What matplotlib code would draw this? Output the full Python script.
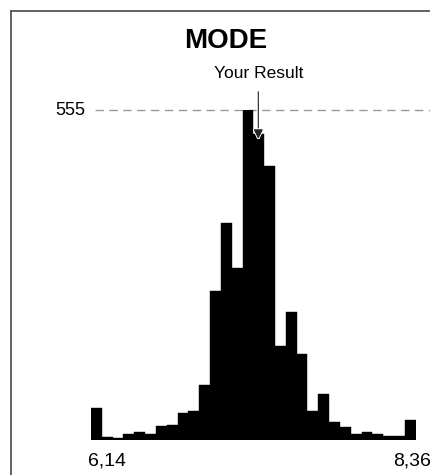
import matplotlib
matplotlib.use("Agg")
import matplotlib.pyplot as plt
import matplotlib.patheffects as pe
import numpy as np

plt.rcParams['font.family'] = ['Liberation Sans', 'DejaVu Sans']

# histogram of results, 30 bins between the min and max
x_min = 6.14
x_max = 8.36
counts = [54, 5, 4, 10, 14, 10, 24, 26, 46, 48, 93, 250, 366, 290, 555,
          515, 462, 158, 216, 144, 49, 77, 30, 22, 10, 13, 10, 6, 6, 34]
mode_value = 555
your_result = 7.284
min_label = "6,14"
max_label = "8,36"

W, H = 431, 475
fig = plt.figure(figsize=(W / 100, H / 100), dpi=100)

# axes placed so bars run from px 91 to 415.7, baseline at px 440
left, right = 91 / W, 415.7 / W
bottom = (H - 440) / H
top = (H - 110.3) / H
ax = fig.add_axes([left, bottom, right - left, top - bottom])

edges = np.linspace(x_min, x_max, len(counts) + 1)
ax.bar(edges[:-1], counts, width=np.diff(edges), align='edge',
       color='black', edgecolor='black', linewidth=0.3)
ax.set_xlim(x_min, x_max)
ax.set_ylim(0, mode_value)
ax.axis('off')

# dashed line at the mode count
ax.axhline(mode_value, xmin=(95 - 91) / 324.7, xmax=1.1, color='#999999',
           lw=1.0, ls=(0, (6, 4)), clip_on=False, zorder=0)
ax.text(-6 / 324.7, mode_value, str(mode_value), transform=ax.get_yaxis_transform(),
        ha='right', va='center', fontsize=13)

# "Your Result" arrow
tip_y = (440 - 138) * mode_value / 330.7
ann = ax.annotate("Your Result", xy=(your_result, tip_y),
                  xytext=(your_result, (440 - 72) * mode_value / 330.7),
                  ha='center', va='center', fontsize=12.5,
                  arrowprops=dict(arrowstyle='-|>,head_length=0.45,head_width=0.22',
                                  color='#222222', lw=0.8, shrinkA=6, shrinkB=0),
                  annotation_clip=False)
ann.arrow_patch.set_path_effects([pe.withStroke(linewidth=2.2, foreground='white')])

# min / max labels under the bars
fig.text(88 / W, 1 - 466 / H, min_label, fontsize=14, ha='left', va='baseline')
fig.text(393 / W, 1 - 466 / H, max_label, fontsize=14, ha='left', va='baseline')

fig.text(226 / W, 1 - 48 / H, "MODE", fontsize=20, fontweight='bold',
         ha='center', va='baseline')

# frame around the panel (cropped on right and bottom)
bx, by = 11.5 / W, 1 - 10.5 / H
fig.add_artist(plt.Line2D([bx, bx], [by, -0.01], color='#555555', lw=1.3))
fig.add_artist(plt.Line2D([bx, 1.01], [by, by], color='#555555', lw=1.3))

fig.savefig("out.png", dpi=100)
